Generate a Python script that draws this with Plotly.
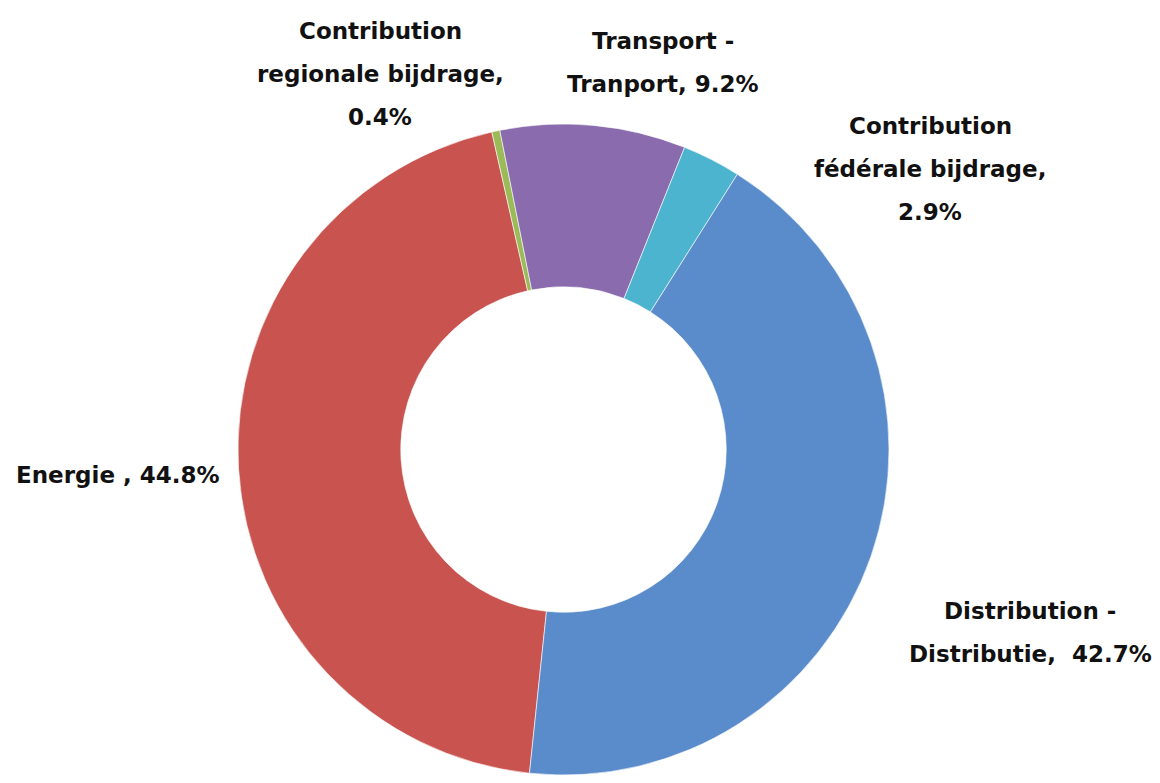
import plotly.graph_objects as go

# ---- data ----
categories = [
    "Energie",
    "Contribution regionale bijdrage",
    "Transport - Tranport",
    "Contribution fédérale bijdrage",
    "Distribution - Distributie",
]
values = [44.8, 0.4, 9.2, 2.9, 42.7]
label_templates = [
    "Energie , {v}%",
    "Contribution<br>regionale bijdrage,<br>{v}%",
    "Transport -<br>Tranport, {v}%",
    "Contribution<br>fédérale bijdrage,<br>{v}%",
    "Distribution -<br>Distributie,  {v}%",
]
colors = ["#C8534F", "#9BBB59", "#8A6BAE", "#4DB4D0", "#5A8BCB"]

# ---- layout (page has an 8px body margin) ----
OFF = 8
W, H = 1160 - 2 * OFF, 783 - 2 * OFF
TOP = 116
CX = 563.5 - OFF
# label positions in window pixels: centre x, first-line centre y
label_pos = [(118, 475), (380, 31), (663, 41), (930, 126), (1030, 611)]
line_gap = 43
font = dict(family="DejaVu Sans", size=23, color="#111111", weight="bold")

fig = go.Figure(
    go.Pie(
        labels=categories,
        values=values,
        hole=0.5,
        sort=False,
        direction="clockwise",
        rotation=186,
        marker=dict(colors=colors, line=dict(color="rgba(255,255,255,0.6)", width=1)),
        textinfo="none",
        domain=dict(x=[0, 2 * CX / W], y=[0, 1]),
        showlegend=False,
    )
)

annotations = []
for tpl, v, (px, py) in zip(label_templates, values, label_pos):
    lines = tpl.format(v=v).split("<br>")
    for i, line in enumerate(lines):
        fx = px - OFF
        fy = py - OFF + i * line_gap
        annotations.append(
            dict(
                text=line,
                x=fx / W,
                y=1 - (fy - TOP) / (H - TOP),
                xref="paper",
                yref="paper",
                xanchor="center",
                yanchor="middle",
                showarrow=False,
                font=font,
            )
        )

fig.update_layout(
    width=W,
    height=H,
    margin=dict(l=0, r=0, t=TOP, b=0),
    paper_bgcolor="white",
    plot_bgcolor="white",
    annotations=annotations,
)

fig.write_html("out.html")
